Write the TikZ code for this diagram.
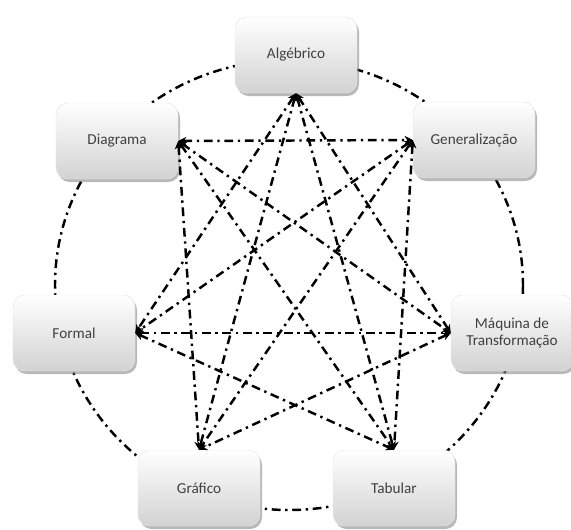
\documentclass[tikz,border=0pt]{standalone}
\usepackage{fontspec}
\setmainfont{Carlito}
\usetikzlibrary{arrows.meta,shadows,backgrounds}
\begin{document}
\begin{tikzpicture}[x=0.03cm,y=-0.03cm,
box/.style={rounded corners=0.35cm,minimum width=3.66cm,minimum height=2.28cm,top color=white,bottom color=gray!35,draw=gray!20,drop shadow={opacity=0.55,shadow xshift=0.06cm,shadow yshift=-0.09cm},align=center,font=\fontsize{13}{15}\selectfont,text=black!75},
ring/.style={line width=2.1pt,dash pattern=on 7.5pt off 4pt on 2pt off 4pt},
link/.style={ring,{Stealth[length=7pt,width=7pt]}-{Stealth[length=7pt,width=7pt]}},
]
\useasboundingbox (0,0) rectangle (571,529);

\node[box] (alg) at (296,55) {Algébrico};
\node[box] (diag) at (117,141) {Diagrama};
\node[box] (gen) at (474,140) {Generalização};
\node[box] (form) at (74,333) {Formal};
\node[box] (maq) at (512,333) {Máquina de\\Transformação};
\node[box] (graf) at (199,488) {Gráfico};
\node[box] (tab) at (394,488) {Tabular};

%ring
\begin{scope}[on background layer]
\draw[ring] (289,285) ellipse [x radius=234,y radius=225];
\end{scope}

%links
\foreach \a/\b in {alg.south/form.east,alg.south/graf.north,alg.south/tab.north,alg.south/maq.west,
  diag.east/gen.west,diag.east/maq.west,diag.east/tab.north,diag.east/graf.north,
  gen.west/form.east,gen.west/graf.north,gen.west/tab.north,
  form.east/maq.west,form.east/tab.north,maq.west/graf.north}
  \draw[link] (\a) -- (\b);

\end{tikzpicture}
\end{document}
